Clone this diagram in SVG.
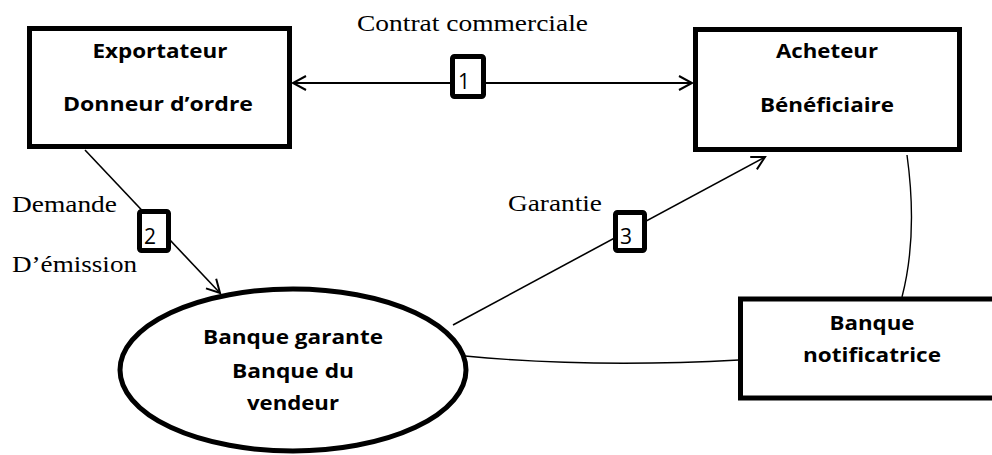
<svg xmlns="http://www.w3.org/2000/svg" width="992" height="455" viewBox="0 0 992 455">
  <style>
    .box { fill: #fff; stroke: #000; stroke-width: 5; }
    .tag { fill: #fff; stroke: #000; stroke-width: 5; }
    .lbl { font-family: "Open Sans", "Liberation Sans", sans-serif; font-weight: bold; font-size: 20px; fill: #000; text-anchor: middle; }
    .num { font-family: "Open Sans", "Liberation Sans", sans-serif; font-size: 21px; fill: #000; text-anchor: middle; }
    .ser { font-family: "Liberation Serif", "Times New Roman", serif; font-size: 23px; fill: #000; }
    .link { fill: none; stroke: #000; }
  </style>
  <defs>
    <marker id="chev" markerUnits="userSpaceOnUse" markerWidth="20" markerHeight="20" viewBox="-16 -10 20 20" refX="0" refY="0" orient="auto-start-reverse">
      <path d="M-13,-7 L0,0 L-13,7" fill="none" stroke="#000" stroke-width="2"/>
    </marker>
  </defs>

  <rect width="992" height="455" fill="#fff"/>

  <!-- connectors -->
  <g id="connectors">
    <line class="link" x1="293" y1="83" x2="692" y2="83" stroke-width="2" marker-start="url(#chev)" marker-end="url(#chev)"/>
    <line class="link" x1="85" y1="150" x2="220" y2="293" stroke-width="1.6" marker-end="url(#chev)"/>
    <line class="link" x1="453" y1="325" x2="765" y2="157" stroke-width="1.6" marker-end="url(#chev)"/>
    <path class="link" d="M465,356 Q590,368 739,360" stroke-width="1.4"/>
    <path class="link" d="M907,155 Q918,235 902,297" stroke-width="1.4"/>

    <rect class="tag" x="452.5" y="56.5" width="31" height="40" rx="2"/>
    <text class="num" x="464" y="89">1</text>
    <rect class="tag" x="139.5" y="211.5" width="29" height="39" rx="2"/>
    <text class="num" x="150" y="244">2</text>
    <rect class="tag" x="615.5" y="212.5" width="29" height="38" rx="2"/>
    <text class="num" x="626" y="244">3</text>

    <text class="ser" x="357" y="31" textLength="231" lengthAdjust="spacingAndGlyphs">Contrat commerciale</text>
    <text class="ser" x="12" y="212" textLength="105" lengthAdjust="spacingAndGlyphs">Demande</text>
    <text class="ser" x="12" y="272" textLength="125" lengthAdjust="spacingAndGlyphs">D’émission</text>
    <text class="ser" x="508" y="211" textLength="94" lengthAdjust="spacingAndGlyphs">Garantie</text>
  </g>

  <g id="exportateur">
    <rect class="box" x="29.5" y="28.5" width="260" height="118"/>
    <text class="lbl" x="160" y="58" textLength="135" lengthAdjust="spacingAndGlyphs">Exportateur</text>
    <text class="lbl" x="158" y="111" textLength="190" lengthAdjust="spacingAndGlyphs">Donneur d’ordre</text>
  </g>

  <g id="acheteur">
    <rect class="box" x="695.5" y="29.5" width="264" height="120"/>
    <text class="lbl" x="827" y="58" textLength="102" lengthAdjust="spacingAndGlyphs">Acheteur</text>
    <text class="lbl" x="827" y="112" textLength="134" lengthAdjust="spacingAndGlyphs">Bénéficiaire</text>
  </g>

  <g id="banque-garante">
    <ellipse class="box" cx="293" cy="370" rx="173" ry="81" stroke-width="4"/>
    <text class="lbl" x="293" y="344" textLength="180" lengthAdjust="spacingAndGlyphs">Banque garante</text>
    <text class="lbl" x="293" y="378" textLength="122" lengthAdjust="spacingAndGlyphs">Banque du</text>
    <text class="lbl" x="293" y="410" textLength="92" lengthAdjust="spacingAndGlyphs">vendeur</text>
  </g>

  <g id="banque-notificatrice">
    <rect class="box" x="740.5" y="299" width="262" height="99"/>
    <text class="lbl" x="872" y="330" textLength="85" lengthAdjust="spacingAndGlyphs">Banque</text>
    <text class="lbl" x="872" y="362" textLength="138" lengthAdjust="spacingAndGlyphs">notificatrice</text>
  </g>
</svg>
